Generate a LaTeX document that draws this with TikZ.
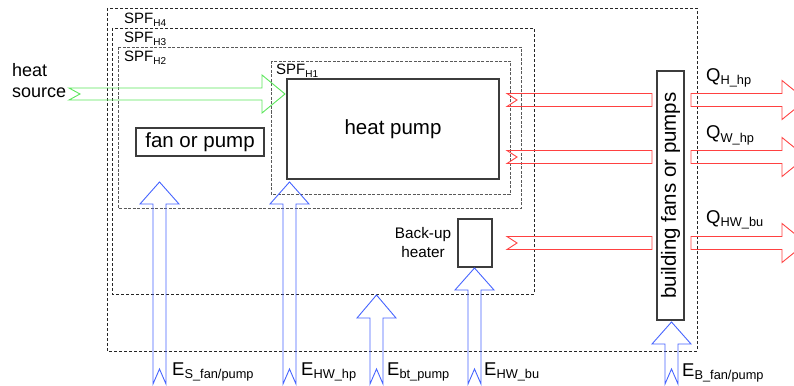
\documentclass[tikz,border=0pt]{standalone}
\usepackage{fontspec}
\setmainfont{Liberation Sans}
\definecolor{grnarr}{RGB}{90,230,90}
\definecolor{redarr}{RGB}{255,65,65}
\definecolor{bluarr}{RGB}{70,100,255}
\definecolor{boxgray}{RGB}{60,60,60}
\definecolor{dashgray}{RGB}{90,90,90}
\newcommand{\SbTxt}[2]{\raisebox{-#1}{\fontsize{12.8}{14}\selectfont #2}}
\newcommand{\UpBlk}[4]{%
  \draw[bluearr] (#1-6.5,#4) -- (#1-6.5,#3) -- (#1-19.5,#3) -- (#1,#2) -- (#1+19.5,#3) -- (#1+6.5,#3) -- (#1+6.5,#4) -- (#1,#4-15) -- cycle;}
\newcommand{\RedLeft}[1]{%
  \draw[redarrow] (507,#1-6.5) -- (652,#1-6.5) -- (652,#1+6.5) -- (507,#1+6.5) -- (517,#1) -- cycle;}
\newcommand{\RedRight}[1]{%
  \draw[redarrow] (691,#1-6.5) -- (782,#1-6.5) -- (782,#1-19.5) -- (806,#1) -- (782,#1+19.5) -- (782,#1+6.5) -- (691,#1+6.5) -- cycle;}
\begin{document}
\begin{tikzpicture}[x=1pt,y=-1pt,
  bluearr/.style={draw=bluarr,line width=0.9pt,line join=miter},
  redarrow/.style={draw=redarr,line width=0.9pt,line join=miter},
  grnarrow/.style={draw=grnarr,line width=0.9pt,line join=miter},
  outerdash/.style={draw=black!85,line width=0.8pt,dash pattern=on 3pt off 2pt},
  innerdash/.style={draw=dashgray,line width=0.9pt,dash pattern=on 3pt off 1.5pt},
  solidbox/.style={draw=boxgray,line width=1.1pt,inner sep=0pt},
  lbl/.style={inner sep=0pt,anchor=base west},
  bigtxt/.style={font=\fontsize{20.5}{24}\selectfont},
  midtxt/.style={font=\fontsize{18.5}{21}\selectfont},
  spftxt/.style={font=\fontsize{15}{17}\selectfont,inner sep=0pt,anchor=base west}]
\useasboundingbox (0,0) rectangle (794,385);

% system boundaries
\draw[outerdash] (107,8) rectangle (697,351);
\draw[outerdash] (112,28) rectangle (534,294);
\draw[innerdash] (118,47) rectangle (521,208);
\draw[innerdash] (271,61) rectangle (510,194);

\node[spftxt] (spf4) at (124,24) {SPF\SbTxt{2.5pt}{\fontsize{10}{12}\selectfont H4}};
\node[spftxt] (spf3) at (124,43) {SPF\SbTxt{2.5pt}{\fontsize{10}{12}\selectfont H3}};
\node[spftxt] (spf2) at (124,62) {SPF\SbTxt{2.5pt}{\fontsize{10}{12}\selectfont H2}};
\node[spftxt] (spf1) at (276,75) {SPF\SbTxt{2.5pt}{\fontsize{10}{12}\selectfont H1}};

% components
\node[solidbox,minimum width=212pt,minimum height=100pt,bigtxt] (hp) at (393,129) {heat pump};
\node[solidbox,minimum width=128pt,minimum height=28pt,bigtxt] (fan) at (200,142) {fan or pump};
\node[solidbox,minimum width=34pt,minimum height=48pt] (bu) at (475,243) {};
\node[inner sep=0pt,align=center,font=\fontsize{15.3}{19}\selectfont] (butxt) at (423,243) {Back-up\\heater};
\node[solidbox,minimum width=27pt,minimum height=249pt] (bfan) at (670.5,195.5) {};
\node[rotate=90,bigtxt,inner sep=0pt] (bfantxt) at (bfan.center) {building fans or pumps};

% heat source arrow
\node[inner sep=0pt,align=left,font=\fontsize{18}{21.3}\selectfont,anchor=base west] (hs) at (12,97.5) {heat\\source};
\draw[grnarrow] (69,88) -- (262,88) -- (262,75) -- (285,94) -- (262,113) -- (262,100) -- (69,100) -- (80,94) -- cycle;

% heat output arrows
\RedLeft{100}\RedRight{100}
\RedLeft{157}\RedRight{157}
\RedLeft{243}\RedRight{243}
\node[lbl,midtxt] (qh) at (706,82) {Q\SbTxt{3pt}{H\_hp}};
\node[lbl,midtxt] (qw) at (706,139) {Q\SbTxt{3pt}{W\_hp}};
\node[lbl,midtxt] (qhw) at (706,223) {Q\SbTxt{3pt}{HW\_bu}};

% electricity input arrows
\UpBlk{159.5}{182}{204}{384}
\UpBlk{289.5}{182}{204}{384}
\UpBlk{376.5}{295}{318}{384}
\UpBlk{474.5}{268}{290}{384}
\UpBlk{671.5}{322}{344}{384}
\node[lbl,midtxt] (es) at (172,375) {E\SbTxt{3pt}{S\_fan/pump}};
\node[lbl,midtxt] (ehw) at (301,375) {E\SbTxt{3pt}{HW\_hp}};
\node[lbl,midtxt] (ebt) at (387,375) {E\SbTxt{3pt}{bt\_pump}};
\node[lbl,midtxt] (ehwbu) at (484,375) {E\SbTxt{3pt}{HW\_bu}};
\node[lbl,midtxt] (eb) at (682,376) {E\SbTxt{3pt}{B\_fan/pump}};
\end{tikzpicture}
\end{document}
